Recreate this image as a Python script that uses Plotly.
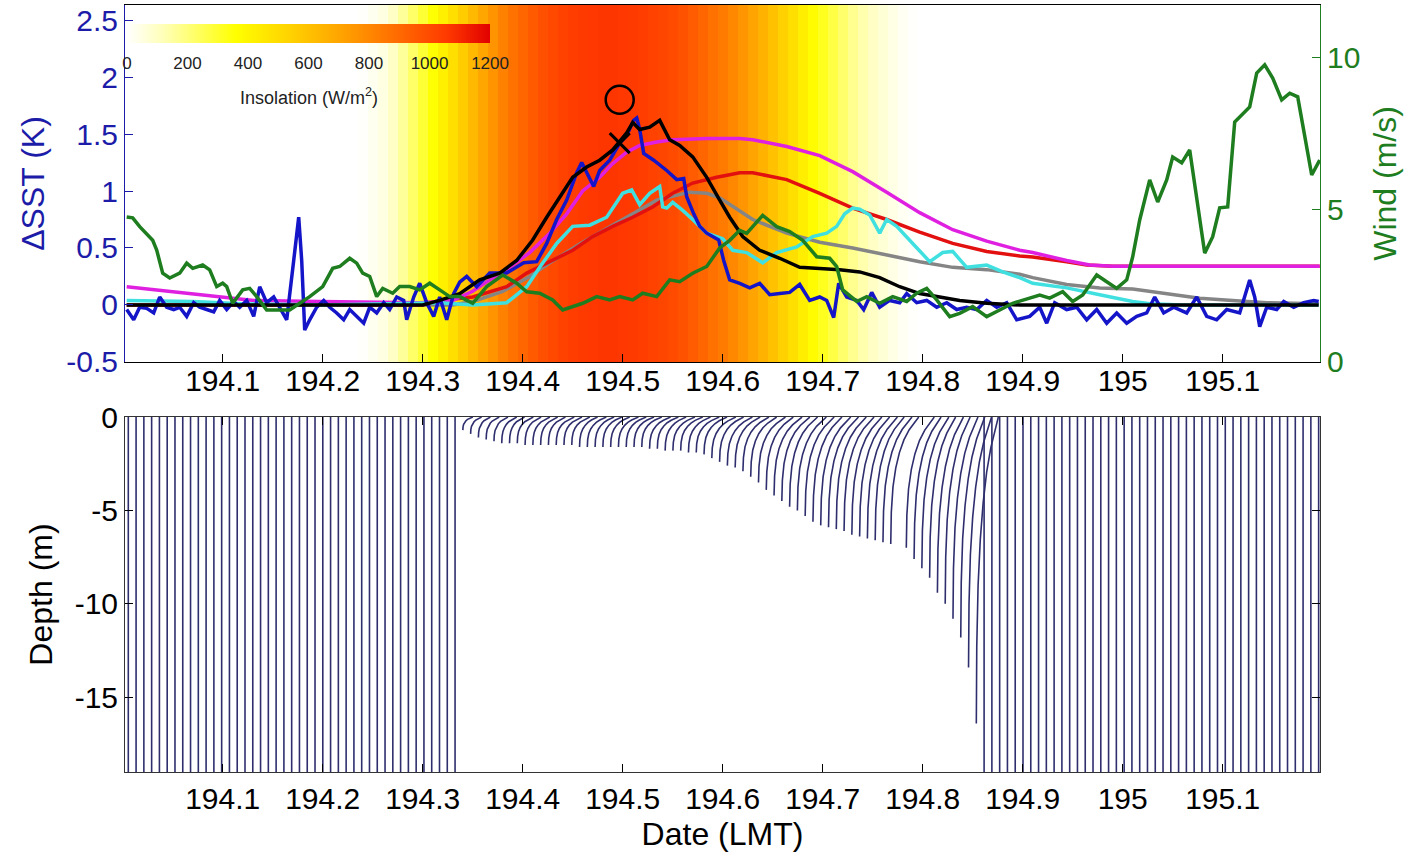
import plotly.graph_objects as go

FONT = "Liberation Sans, Arial, sans-serif"
BLUE_AX = "#1c1ca8"
GREEN_AX = "#1e7d1e"
PROFILE_COLOR = "#2e2e6e"

X_RANGE = [194.0023, 195.1973]
SST_RANGE = [-0.5, 2.632]
WIND_RANGE = [0, 11.74]
DEPTH_RANGE = [-19, 0]

date_tick_vals = [194.1, 194.2, 194.3, 194.4, 194.5, 194.6, 194.7, 194.8, 194.9, 195.0, 195.1]
date_tick_text = ["194.1", "194.2", "194.3", "194.4", "194.5", "194.6", "194.7", "194.8", "194.9", "195", "195.1"]
sst_tick_vals = [-0.5, 0, 0.5, 1, 1.5, 2, 2.5]
sst_tick_text = ["-0.5", "0", "0.5", "1", "1.5", "2", "2.5"]
wind_tick_vals = [0, 5, 10]
depth_tick_vals = [0, -5, -10, -15]
depth_tick_text = ["0", "-5", "-10", "-15"]
insol_tick_vals = [0, 200, 400, 600, 800, 1000, 1200]

# Insolation (W/m2) background
ins_time = [194.24, 194.25, 194.26, 194.27, 194.28, 194.29, 194.30, 194.31, 194.32, 194.33, 194.34,
            194.35, 194.36, 194.37, 194.38, 194.39, 194.40, 194.41, 194.42, 194.43, 194.44,
            194.45, 194.46, 194.47, 194.48, 194.49, 194.50, 194.51, 194.52, 194.53, 194.54,
            194.55, 194.56, 194.57, 194.58, 194.59, 194.60, 194.61, 194.62, 194.63, 194.64,
            194.65, 194.66, 194.67, 194.68, 194.69, 194.70, 194.71, 194.72, 194.73, 194.74,
            194.75, 194.76, 194.77, 194.78, 194.79]
ins_value = [5, 25, 50, 100, 160, 225, 290, 355, 420, 490, 560,
             630, 700, 760, 820, 870, 910, 950, 985, 1010, 1030,
             1045, 1055, 1060, 1065, 1065, 1060, 1055, 1045, 1030, 1015,
             1000, 975, 945, 910, 875, 840, 800, 755, 705, 655,
             600, 545, 490, 430, 375, 320, 270, 220, 175, 135,
             100, 70, 45, 20, 5]

# Measured dSST (blue)
obs_time = [194.004, 194.011, 194.017, 194.024, 194.031, 194.037, 194.044, 194.051, 194.057, 194.064,
            194.071, 194.077, 194.084, 194.091, 194.097, 194.104, 194.111, 194.117, 194.124, 194.131,
            194.137, 194.144, 194.151, 194.157, 194.164, 194.171, 194.176, 194.179, 194.182, 194.187,
            194.194, 194.201, 194.207, 194.214, 194.221, 194.227, 194.234, 194.241, 194.247, 194.254,
            194.261, 194.267, 194.274, 194.281, 194.284, 194.291, 194.297, 194.304, 194.311, 194.317,
            194.324, 194.331, 194.337, 194.344, 194.354, 194.367, 194.384, 194.401, 194.414, 194.424,
            194.434, 194.444, 194.454, 194.459, 194.471, 194.477, 194.487, 194.497, 194.504, 194.511,
            194.514, 194.517, 194.521, 194.531, 194.544, 194.554, 194.561, 194.564, 194.571, 194.577,
            194.584, 194.591, 194.596, 194.601, 194.607, 194.617, 194.627, 194.637, 194.647, 194.657,
            194.667, 194.677, 194.687, 194.697, 194.704, 194.711, 194.716, 194.724, 194.734, 194.741,
            194.749, 194.757, 194.767, 194.777, 194.784, 194.794, 194.804, 194.814, 194.824, 194.834,
            194.844, 194.854, 194.864, 194.874, 194.884, 194.894, 194.907, 194.917, 194.924, 194.932,
            194.944, 194.954, 194.964, 194.974, 194.984, 194.994, 195.004, 195.014, 195.024, 195.032,
            195.041, 195.051, 195.064, 195.074, 195.084, 195.094, 195.104, 195.117, 195.127, 195.132,
            195.137, 195.144, 195.154, 195.161, 195.171, 195.181, 195.191, 195.196]
obs_dsst = [-0.04, -0.13, -0.02, -0.03, -0.07, 0.07, -0.02, -0.04, -0.02, -0.10,
            0.02, -0.02, -0.04, -0.06, 0.04, -0.04, 0.03, -0.02, 0.04, -0.10,
            0.16, 0.02, 0.07, -0.02, -0.13, 0.39, 0.77, 0.39, -0.22, -0.13,
            -0.02, 0.04, -0.02, -0.07, -0.13, -0.04, -0.10, -0.16, -0.02, -0.07,
            0.02, -0.04, 0.07, 0.04, -0.13, 0.07, 0.19, 0.02, -0.10, 0.07,
            -0.13, 0.10, 0.20, 0.25, 0.16, 0.28, 0.28, 0.37, 0.38, 0.54,
            0.75, 0.92, 1.16, 1.25, 1.04, 1.18, 1.27, 1.42, 1.49, 1.62,
            1.64, 1.54, 1.33, 1.27, 1.18, 1.10, 1.11, 0.95, 0.80, 0.69,
            0.63, 0.59, 0.57, 0.39, 0.22, 0.19, 0.15, 0.19, 0.09, 0.10,
            0.11, 0.18, 0.04, 0.07, 0.04, -0.11, 0.19, 0.07, 0.04, -0.04,
            0.11, -0.02, 0.04, 0.02, 0.10, 0.02, 0.04, -0.02, 0.02, -0.04,
            -0.02, -0.04, 0.04, -0.02, 0.02, -0.13, -0.10, -0.02, -0.16, 0.02,
            -0.04, -0.02, -0.13, -0.04, -0.16, -0.07, -0.16, -0.10, -0.07, 0.07,
            -0.07, -0.02, -0.07, 0.07, -0.10, -0.13, -0.04, -0.07, 0.22, 0.07,
            -0.19, -0.02, -0.04, 0.03, -0.02, 0.02, 0.04, 0.03]

# Model dSST curves
mag_time = [194.004, 194.064, 194.131, 194.197, 194.297, 194.330, 194.350, 194.367, 194.384, 194.407,
            194.427, 194.444, 194.460, 194.477, 194.490, 194.504, 194.517, 194.534, 194.550, 194.584,
            194.617, 194.630, 194.664, 194.697, 194.730, 194.764, 194.797, 194.830, 194.864, 194.897,
            194.910, 194.944, 194.967, 194.990, 195.197]
mag_dsst = [0.16, 0.10, 0.04, 0.03, 0.02, 0.04, 0.12, 0.22, 0.31, 0.46,
            0.63, 0.80, 1.00, 1.12, 1.24, 1.34, 1.40, 1.43, 1.45, 1.46,
            1.46, 1.45, 1.39, 1.31, 1.17, 0.99, 0.81, 0.66, 0.56, 0.48,
            0.46, 0.39, 0.35, 0.34, 0.34]

red_time = [194.004, 194.300, 194.317, 194.350, 194.384, 194.404, 194.427, 194.450, 194.470, 194.490,
            194.510, 194.530, 194.550, 194.570, 194.594, 194.617, 194.630, 194.664, 194.697, 194.730,
            194.764, 194.797, 194.830, 194.864, 194.897, 194.910, 194.944, 194.964, 194.990, 195.197]
red_dsst = [0.0, 0.0, 0.04, 0.07, 0.16, 0.28, 0.38, 0.48, 0.60, 0.69,
            0.77, 0.86, 0.98, 1.07, 1.12, 1.16, 1.16, 1.10, 0.98, 0.85,
            0.75, 0.64, 0.54, 0.47, 0.43, 0.42, 0.38, 0.35, 0.34, 0.34]

gray_time = [194.004, 194.330, 194.350, 194.380, 194.407, 194.427, 194.460, 194.500, 194.534, 194.567,
             194.584, 194.597, 194.630, 194.664, 194.697, 194.730, 194.764, 194.797, 194.830, 194.864,
             194.897, 194.910, 194.944, 194.977, 195.010, 195.044, 195.077, 195.110, 195.144, 195.196]
gray_dsst = [0.0, 0.0, 0.03, 0.12, 0.25, 0.37, 0.55, 0.75, 0.92, 0.99,
             0.98, 0.94, 0.75, 0.63, 0.55, 0.50, 0.44, 0.38, 0.33, 0.31,
             0.27, 0.24, 0.18, 0.15, 0.14, 0.10, 0.06, 0.04, 0.02, 0.01]

cyan_time = [194.004, 194.070, 194.120, 194.200, 194.317, 194.350, 194.384, 194.404, 194.417, 194.434,
             194.450, 194.467, 194.484, 194.500, 194.509, 194.517, 194.527, 194.537, 194.540, 194.544,
             194.550, 194.560, 194.570, 194.584, 194.600, 194.610, 194.624, 194.640, 194.654, 194.674,
             194.690, 194.704, 194.714, 194.722, 194.730, 194.737, 194.747, 194.757, 194.764, 194.774,
             194.790, 194.807, 194.820, 194.830, 194.844, 194.864, 194.880, 194.897, 194.910, 194.944,
             194.977, 195.010, 195.027, 195.060, 195.196]
cyan_dsst = [0.04, 0.03, 0.01, 0.0, 0.02, 0.0, 0.02, 0.16, 0.33, 0.54,
             0.69, 0.70, 0.77, 0.98, 1.01, 0.88, 0.98, 1.04, 0.86, 0.85,
             0.90, 0.83, 0.75, 0.63, 0.58, 0.48, 0.46, 0.37, 0.46, 0.51,
             0.60, 0.63, 0.69, 0.80, 0.85, 0.84, 0.79, 0.63, 0.75, 0.69,
             0.54, 0.38, 0.46, 0.47, 0.33, 0.35, 0.29, 0.24, 0.19, 0.15,
             0.09, 0.03, 0.01, 0.0, 0.0]

black_time = [194.004, 194.300, 194.317, 194.337, 194.357, 194.377, 194.394, 194.410, 194.424, 194.437,
              194.450, 194.464, 194.477, 194.490, 194.504, 194.510, 194.517, 194.527, 194.537, 194.547,
              194.557, 194.570, 194.584, 194.597, 194.607, 194.620, 194.637, 194.657, 194.677, 194.697,
              194.717, 194.737, 194.757, 194.777, 194.797, 194.817, 194.837, 194.864, 194.897, 195.196]
black_dsst = [0.0, 0.0, 0.04, 0.10, 0.22, 0.28, 0.39, 0.57, 0.77, 0.95,
              1.12, 1.21, 1.27, 1.36, 1.51, 1.60, 1.54, 1.56, 1.62, 1.45,
              1.40, 1.30, 1.12, 0.92, 0.77, 0.60, 0.48, 0.41, 0.33, 0.32,
              0.31, 0.29, 0.24, 0.16, 0.10, 0.07, 0.04, 0.015, 0.0, 0.0]

# Wind speed (m/s)
wind_time = [194.004, 194.010, 194.017, 194.030, 194.034, 194.040, 194.047, 194.057, 194.064, 194.070,
             194.080, 194.087, 194.094, 194.100, 194.104, 194.110, 194.120, 194.127, 194.134, 194.144,
             194.157, 194.167, 194.177, 194.187, 194.200, 194.210, 194.217, 194.227, 194.234, 194.240,
             194.247, 194.254, 194.260, 194.270, 194.277, 194.287, 194.297, 194.307, 194.317, 194.327,
             194.337, 194.350, 194.364, 194.380, 194.394, 194.404, 194.417, 194.430, 194.440, 194.450,
             194.460, 194.474, 194.487, 194.497, 194.510, 194.520, 194.534, 194.547, 194.557, 194.570,
             194.584, 194.597, 194.607, 194.617, 194.624, 194.640, 194.654, 194.667, 194.680, 194.694,
             194.707, 194.714, 194.720, 194.734, 194.744, 194.757, 194.770, 194.784, 194.794, 194.804,
             194.814, 194.827, 194.837, 194.850, 194.864, 194.877, 194.890, 194.917, 194.927, 194.940,
             194.950, 194.960, 194.974, 194.984, 194.994, 195.004, 195.010, 195.017, 195.027, 195.035,
             195.044, 195.050, 195.059, 195.067, 195.074, 195.082, 195.090, 195.097, 195.105, 195.112,
             195.127, 195.134, 195.142, 195.150, 195.159, 195.167, 195.175, 195.189, 195.197]
wind_speed = [4.77, 4.74, 4.45, 4.00, 3.68, 2.92, 2.76, 2.92, 3.25, 3.08,
              3.19, 3.03, 2.48, 2.59, 2.48, 1.93, 2.37, 2.42, 2.15, 1.71,
              1.71, 1.71, 1.93, 2.15, 2.48, 3.08, 3.14, 3.41, 3.25, 2.92,
              2.81, 2.15, 2.42, 2.26, 2.48, 2.48, 2.37, 2.59, 2.37, 2.15,
              2.15, 1.93, 2.48, 2.86, 2.59, 2.31, 2.26, 2.04, 1.71, 1.82,
              1.93, 2.15, 2.04, 2.15, 2.04, 2.26, 2.15, 2.70, 2.64, 2.92,
              3.14, 3.75, 4.00, 4.33, 4.23, 4.82, 4.45, 4.29, 4.00, 3.46,
              3.41, 3.14, 2.37, 1.99, 2.15, 1.93, 2.15, 1.99, 2.26, 2.42,
              2.04, 1.49, 1.60, 1.82, 1.49, 1.71, 1.93, 2.20, 2.10, 2.31,
              1.99, 2.20, 2.86, 2.64, 2.42, 2.70, 3.46, 4.67, 5.99, 5.26,
              5.99, 6.74, 6.55, 6.97, 5.43, 3.58, 4.12, 5.07, 5.10, 7.89,
              8.39, 9.50, 9.77, 9.34, 8.62, 8.84, 8.72, 6.15, 6.64]

# Peak markers
marker_time = [194.497]
circle_dsst = [1.80]
cross_dsst = [1.42]

# Temperature profiles (lower panel)
profile_start = 194.0056
profile_step = 0.00778
profile_count = 154
warm_first_index = 43
night_depth = -20.0
warm_depth = [-0.7, -0.9, -1.1, -1.2, -1.3, -1.4, -1.4, -1.4, -1.5, -1.5,
              -1.5, -1.5, -1.5, -1.5, -1.5, -1.6, -1.6, -1.6, -1.6, -1.6,
              -1.6, -1.6, -1.6, -1.6, -1.7, -1.7, -1.8, -1.8, -1.8, -1.9,
              -1.9, -2.0, -2.2, -2.4, -2.6, -2.7, -2.9, -3.2, -3.5, -3.9,
              -4.2, -4.5, -4.8, -5.0, -5.3, -5.6, -5.8, -5.9, -6.0, -6.1,
              -6.3, -6.4, -6.5, -6.6, -6.7, -6.8, None, -7.0, -7.6, -8.1,
              -8.6, -9.4, -10.0, -10.8, -11.8, -13.4, -16.4]
warm_surface_offset = [0.010, 0.011, 0.012, 0.013, 0.014, 0.015, 0.015, 0.016, 0.016, 0.017,
                       0.017, 0.017, 0.018, 0.018, 0.018, 0.018, 0.019, 0.019, 0.019, 0.019,
                       0.020, 0.020, 0.020, 0.020, 0.021, 0.021, 0.021, 0.022, 0.022, 0.022,
                       0.023, 0.023, 0.024, 0.024, 0.025, 0.025, 0.026, 0.026, 0.027, 0.027,
                       0.028, 0.028, 0.028, 0.029, 0.029, 0.029, 0.030, 0.030, 0.030, 0.030,
                       0.030, 0.030, 0.030, 0.029, 0.029, 0.028, None, 0.028, 0.027, 0.027,
                       0.026, 0.026, 0.025, 0.025, 0.024, 0.023, 0.022]
shape_depth_frac = [0.0, 0.04, 0.10, 0.18, 0.28, 0.40, 0.55, 0.75, 1.0]
shape_offset_frac = [1.0, 0.86, 0.66, 0.47, 0.31, 0.18, 0.08, 0.02, 0.0]

insol_colorscale = [
    [0.0, "rgb(255,255,255)"],
    [0.10, "rgb(255,255,185)"],
    [0.30, "rgb(255,255,0)"],
    [0.45, "rgb(255,210,0)"],
    [0.60, "rgb(255,160,0)"],
    [0.75, "rgb(255,105,0)"],
    [0.88, "rgb(255,58,0)"],
    [1.0, "rgb(225,0,0)"],
]

fig = go.Figure()

fig.add_trace(go.Heatmap(
    x=ins_time, y=SST_RANGE, z=[ins_value], xaxis="x", yaxis="y",
    zmin=0, zmax=1200, zsmooth=False, colorscale=insol_colorscale, hoverinfo="skip",
    colorbar=dict(
        orientation="h", x=0.1536, xanchor="center", y=0.9752, yanchor="top",
        len=363, lenmode="pixels", thickness=19, thicknessmode="pixels",
        xpad=0, ypad=0, outlinewidth=0, tickvals=insol_tick_vals,
        ticks="outside", ticklen=6, tickcolor="rgba(0,0,0,0)",
        tickfont=dict(family=FONT, size=17, color="#222222"),
    ),
))

def add_line(x, y, color, yaxis="y", width=3.5):
    fig.add_trace(go.Scatter(x=x, y=y, mode="lines", xaxis="x", yaxis=yaxis,
                             line=dict(color=color, width=width), hoverinfo="skip"))

add_line(gray_time, gray_dsst, "#858585")
add_line(red_time, red_dsst, "#e31010")
add_line(mag_time, mag_dsst, "#e020e0")
add_line(cyan_time, cyan_dsst, "#40e0e0")
add_line(obs_time, obs_dsst, "#1414c8")
add_line(black_time, black_dsst, "#000000")
add_line(wind_time, wind_speed, "#1e7d1e", yaxis="y2")

fig.add_trace(go.Scatter(x=marker_time, y=circle_dsst, mode="markers", xaxis="x", yaxis="y",
                         marker=dict(symbol="circle-open", size=28, color="black",
                                     line=dict(width=2.5, color="black")), hoverinfo="skip"))
fig.add_trace(go.Scatter(x=marker_time, y=cross_dsst, mode="markers", xaxis="x", yaxis="y",
                         marker=dict(symbol="x-thin", size=20, color="black",
                                     line=dict(width=3, color="black")), hoverinfo="skip"))

# Profiles
px_, py_ = [], []
n_warm = len(warm_depth)
for i in range(profile_count):
    t = profile_start + i * profile_step
    k = i - warm_first_index
    if 0 <= k < n_warm:
        d = warm_depth[k]
        off = warm_surface_offset[k]
        if d is None:
            continue
        for s, f in zip(shape_depth_frac, shape_offset_frac):
            px_.append(t + off * f)
            py_.append(d * s)
    else:
        px_ += [t, t]
        py_ += [0.0, night_depth]
    px_.append(None)
    py_.append(None)

fig.add_trace(go.Scatter(x=px_, y=py_, mode="lines", xaxis="x2", yaxis="y3",
                         line=dict(color=PROFILE_COLOR, width=1.6), hoverinfo="skip"))

axis_common = dict(showgrid=False, zeroline=False, ticks="inside", ticklen=8, showline=True,
                   linewidth=1, automargin=False)

fig.update_layout(
    width=1422, height=858,
    margin=dict(l=125, r=102, t=5, b=86, autoexpand=False),
    plot_bgcolor="white", paper_bgcolor="white",
    showlegend=False,
    font=dict(family=FONT, size=30, color="black"),
    xaxis=dict(domain=[0, 1], anchor="y", range=X_RANGE, tickvals=date_tick_vals, ticktext=date_tick_text,
               linecolor="black", tickcolor="black", mirror=True, ticklabelstandoff=-8,
               tickfont=dict(size=30, color="black"), **axis_common),
    yaxis=dict(domain=[0.5346, 1], anchor="x", range=SST_RANGE, tickvals=sst_tick_vals, ticktext=sst_tick_text,
               linecolor=BLUE_AX, tickcolor=BLUE_AX, tickfont=dict(size=30, color=BLUE_AX),
               title=dict(text="ΔSST (K)", font=dict(size=32, color=BLUE_AX), standoff=12), **axis_common),
    yaxis2=dict(overlaying="y", side="right", anchor="x", range=WIND_RANGE, tickvals=wind_tick_vals,
                linecolor=GREEN_AX, tickcolor=GREEN_AX, tickfont=dict(size=30, color=GREEN_AX),
                title=dict(text="Wind (m/s)", font=dict(size=32, color=GREEN_AX), standoff=14), **axis_common),
    xaxis2=dict(domain=[0, 1], anchor="y3", range=X_RANGE, tickvals=date_tick_vals, ticktext=date_tick_text,
                linecolor="#333333", tickcolor="black", mirror="ticks",
                tickfont=dict(size=30, color="black"),
                title=dict(text="Date (LMT)", font=dict(size=32, color="black"), standoff=8), **axis_common),
    yaxis3=dict(domain=[0, 0.4628], anchor="x2", range=DEPTH_RANGE, tickvals=depth_tick_vals, ticktext=depth_tick_text,
                linecolor="#333333", tickcolor="black", mirror="ticks",
                tickfont=dict(size=30, color="black"),
                title=dict(text="Depth (m)", font=dict(size=32, color="black"), standoff=12), **axis_common),
    annotations=[dict(text="Insolation (W/m<sup>2</sup>)", x=0.1536, y=(772 - 97) / 767.0,
                      xref="paper", yref="paper", xanchor="center", yanchor="middle",
                      showarrow=False, font=dict(family=FONT, size=18, color="#222222"))],
)

fig.write_html("out.html")
